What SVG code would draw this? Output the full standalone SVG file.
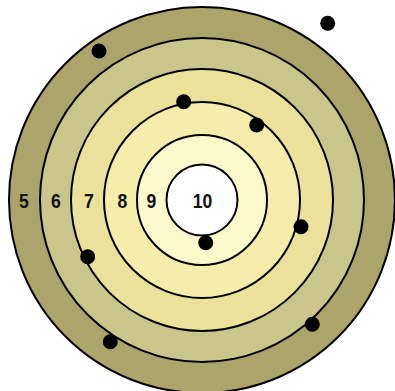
<svg xmlns="http://www.w3.org/2000/svg" width="395" height="391" viewBox="0 0 395 391">
<style>
.ring{stroke:#000;stroke-width:2}
.hit{fill:#000}
.lbl{font-family:"Liberation Sans",Arial,sans-serif;font-weight:bold;font-size:20px;fill:#111;text-anchor:middle}
</style>
<rect width="395" height="391" fill="#fff"/>
<g id="target">
<circle id="ring5" class="ring" cx="202" cy="200" r="193" fill="#aba46b"/>
<circle id="ring6" class="ring" cx="202" cy="200" r="162" fill="#c9c58b"/>
<circle id="ring7" class="ring" cx="202" cy="200" r="131" fill="#ece19a"/>
<circle id="ring8" class="ring" cx="202" cy="200" r="98" fill="#f6ecac"/>
<circle id="ring9" class="ring" cx="202" cy="200" r="65" fill="#fef9cd"/>
<circle id="ring10" class="ring" cx="202" cy="200" r="35.5" fill="#fff"/>
</g>
<g id="labels">
<text class="lbl" transform="translate(24,208.3) scale(0.88,1)">5</text>
<text class="lbl" transform="translate(56,208.3) scale(0.88,1)">6</text>
<text class="lbl" transform="translate(89,208.3) scale(0.88,1)">7</text>
<text class="lbl" transform="translate(122.3,208.3) scale(0.88,1)">8</text>
<text class="lbl" transform="translate(151.3,208.3) scale(0.88,1)">9</text>
<text class="lbl" transform="translate(202.5,208.3) scale(0.88,1)">10</text>
</g>
<g id="hits">
<circle class="hit" cx="327.7" cy="23.3" r="7.5"/>
<circle class="hit" cx="99" cy="51" r="7.5"/>
<circle class="hit" cx="183.7" cy="101.7" r="7.5"/>
<circle class="hit" cx="256.7" cy="125" r="7.5"/>
<circle class="hit" cx="301" cy="226.7" r="7.5"/>
<circle class="hit" cx="205.7" cy="242.7" r="7.5"/>
<circle class="hit" cx="87.7" cy="256.7" r="7.5"/>
<circle class="hit" cx="312.3" cy="324.3" r="7.5"/>
<circle class="hit" cx="110.3" cy="341.7" r="7.5"/>
</g>
</svg>
